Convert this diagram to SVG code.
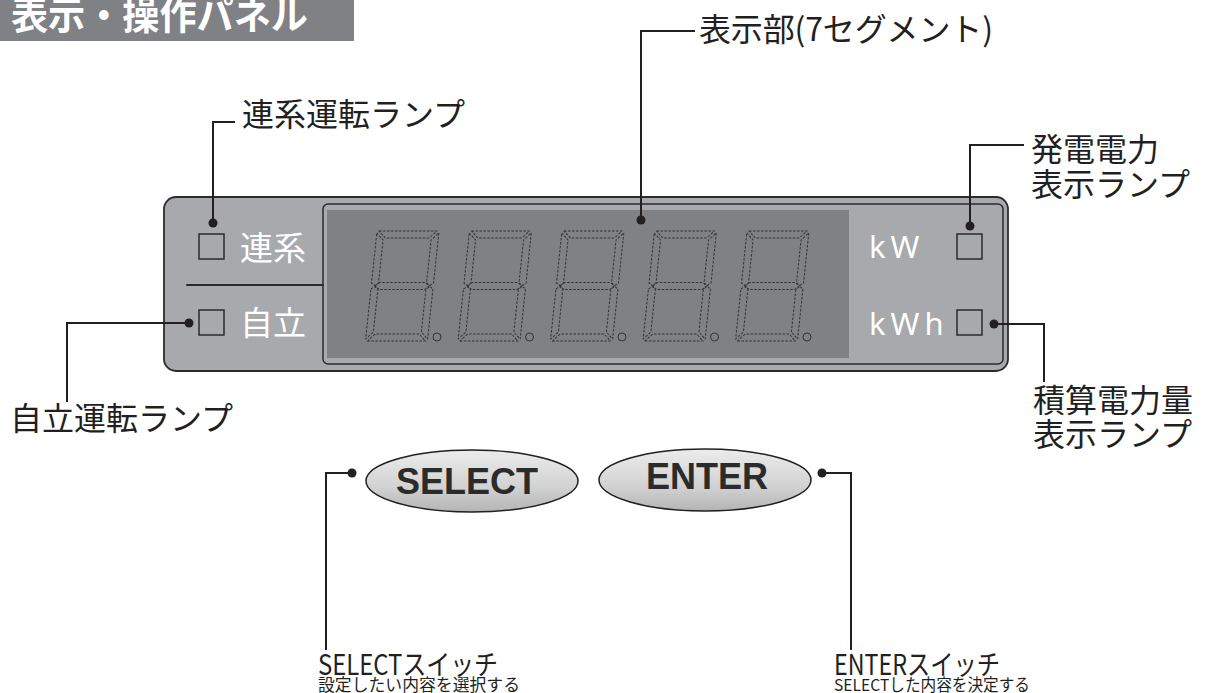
<svg xmlns="http://www.w3.org/2000/svg" xmlns:xlink="http://www.w3.org/1999/xlink" width="1210" height="693" viewBox="0 0 1210 693">
<style>
.lbl{font-family:"Noto Sans CJK JP","Noto Sans",sans-serif;fill:#231f20;font-size:32px}
.sw{font-family:"Noto Sans CJK JP","Noto Sans",sans-serif;fill:#231f20;font-size:28px}
.sub{font-family:"Noto Sans CJK JP","Noto Sans",sans-serif;fill:#231f20;font-size:16.5px}
.pnl{font-family:"Noto Sans CJK JP",sans-serif;fill:#fff;font-size:33px}
.unit{font-family:"Noto Sans",sans-serif;fill:#fff;font-size:31px;letter-spacing:5px}
.lead{fill:none;stroke:#231f20;stroke-width:2}
.dot{fill:#231f20}
.lamp{fill:none;stroke:#2b2b2b;stroke-width:1.5}
.seg{fill:none;stroke:#333;stroke-width:1;stroke-dasharray:2.5 1.5;stroke-linejoin:round}
.dp{fill:none;stroke:#333;stroke-width:1}
.btn{stroke:#231f20;stroke-width:1.5;fill:url(#btnGrad)}
.btxt{font-family:"Liberation Sans",Arial,sans-serif;font-weight:bold;font-size:36px;fill:#2b2b2b;text-anchor:middle}
</style>
<defs>
<linearGradient id="btnGrad" x1="0" y1="0" x2="0" y2="1">
<stop offset="0" stop-color="#ececec"/>
<stop offset="0.6" stop-color="#d2d2d2"/>
<stop offset="1" stop-color="#b4b4b4"/>
</linearGradient>
<g id="digit">
<path class="seg" d="M2,0 H60 L53,7 H9 Z"/>
<path class="seg" d="M62,2 V52 L58.5,54.5 L55,52 V9 Z"/>
<path class="seg" d="M62,58 V108 L55,101 V58 L58.5,55.5 Z"/>
<path class="seg" d="M2,110 H60 L53,103 H9 Z"/>
<path class="seg" d="M0,58 L3.5,55.5 L7,58 V101 L0,108 Z"/>
<path class="seg" d="M0,2 L7,9 V52 L3.5,54.5 L0,52 Z"/>
<path class="seg" d="M4,55 L8,51.5 H54 L58,55 L54,58.5 H8 Z"/>
</g>
</defs>
<rect width="1210" height="693" fill="#fff"/>

<g id="title">
<rect x="0" y="0" width="354" height="41" fill="#808184"/>
<text x="11" y="29" textLength="297" lengthAdjust="spacingAndGlyphs" style="font-family:'Noto Sans CJK JP',sans-serif;font-weight:bold;font-size:39px;fill:#fff">表示・操作パネル</text>
</g>

<g id="panel">
<rect x="164" y="197" width="844" height="174" rx="12" fill="#a7a9ac" stroke="#2b2b2b" stroke-width="1.8"/>
<rect x="323" y="204" width="680" height="160" rx="5" fill="#a7a9ac" stroke="#2b2b2b" stroke-width="1.5"/>
<line x1="187" y1="285" x2="323" y2="285" stroke="#2b2b2b" stroke-width="2" stroke-linecap="round"/>
</g>

<g id="display">
<rect x="327" y="210" width="522" height="148" fill="#808184"/>
<use xlink:href="#digit" transform="translate(377,231) skewX(-6)"/>
<use xlink:href="#digit" transform="translate(469.5,231) skewX(-6)"/>
<use xlink:href="#digit" transform="translate(562,231) skewX(-6)"/>
<use xlink:href="#digit" transform="translate(654.5,231) skewX(-6)"/>
<use xlink:href="#digit" transform="translate(747,231) skewX(-6)"/>
<circle class="dp" cx="437" cy="337" r="4"/>
<circle class="dp" cx="529.5" cy="337" r="4"/>
<circle class="dp" cx="622" cy="337" r="4"/>
<circle class="dp" cx="714.5" cy="337" r="4"/>
<circle class="dp" cx="807" cy="337" r="4"/>
</g>

<g id="lamp-renkei">
<rect class="lamp" x="199" y="234" width="25" height="25"/>
<text class="pnl" x="240" y="260">連系</text>
</g>
<g id="lamp-jiritsu">
<rect class="lamp" x="199" y="310" width="25" height="25"/>
<text class="pnl" x="240" y="335">自立</text>
</g>
<g id="lamp-kw">
<text class="unit" x="869" y="258">kW</text>
<rect class="lamp" x="957" y="234" width="25" height="25"/>
</g>
<g id="lamp-kwh">
<text class="unit" x="869" y="335">kWh</text>
<rect class="lamp" x="957" y="310" width="25" height="25"/>
</g>

<g id="btn-select">
<ellipse class="btn" cx="472" cy="481" rx="106" ry="31"/>
<text class="btxt" x="467" y="494">SELECT</text>
</g>
<g id="btn-enter">
<ellipse class="btn" cx="705" cy="480" rx="106" ry="31"/>
<text class="btxt" x="707" y="489">ENTER</text>
</g>

<g id="connectors">
<polyline class="lead" points="213,223 213,122 235,122"/>
<circle class="dot" cx="213" cy="223" r="4.5"/>
<polyline class="lead" points="641,220 641,31 695,31"/>
<circle class="dot" cx="641" cy="220" r="4.5"/>
<polyline class="lead" points="970,226 970,145 1024,145"/>
<circle class="dot" cx="970" cy="226" r="4.5"/>
<polyline class="lead" points="994,324 1044,324 1044,382"/>
<circle class="dot" cx="994" cy="324" r="4.5"/>
<polyline class="lead" points="189,323 67,323 67,402"/>
<circle class="dot" cx="189" cy="323" r="4.5"/>
<polyline class="lead" points="352,473 326,473 326,650"/>
<circle class="dot" cx="352" cy="473" r="4.5"/>
<polyline class="lead" points="822,473 851,473 851,650"/>
<circle class="dot" cx="822" cy="473" r="4.5"/>
</g>

<g id="label-renkei"><text class="lbl" x="242" y="126">連系運転ランプ</text></g>
<g id="label-display"><text class="lbl" x="699" y="41" textLength="294" lengthAdjust="spacing">表示部(7セグメント)</text></g>
<g id="label-kw"><text class="lbl" x="1031" y="161">発電電力</text><text class="lbl" x="1031" y="196">表示ランプ</text></g>
<g id="label-kwh"><text class="lbl" x="1033" y="412">積算電力量</text><text class="lbl" x="1033" y="446">表示ランプ</text></g>
<g id="label-jiritsu"><text class="lbl" x="10" y="430">自立運転ランプ</text></g>
<g id="label-select"><text class="sw" x="318" y="675" textLength="180" lengthAdjust="spacingAndGlyphs">SELECTスイッチ</text><text class="sub" x="318" y="691" textLength="202" lengthAdjust="spacingAndGlyphs">設定したい内容を選択する</text></g>
<g id="label-enter"><text class="sw" x="834" y="675" textLength="166" lengthAdjust="spacingAndGlyphs">ENTERスイッチ</text><text class="sub" x="834" y="691" textLength="196" lengthAdjust="spacingAndGlyphs">SELECTした内容を決定する</text></g>
</svg>
